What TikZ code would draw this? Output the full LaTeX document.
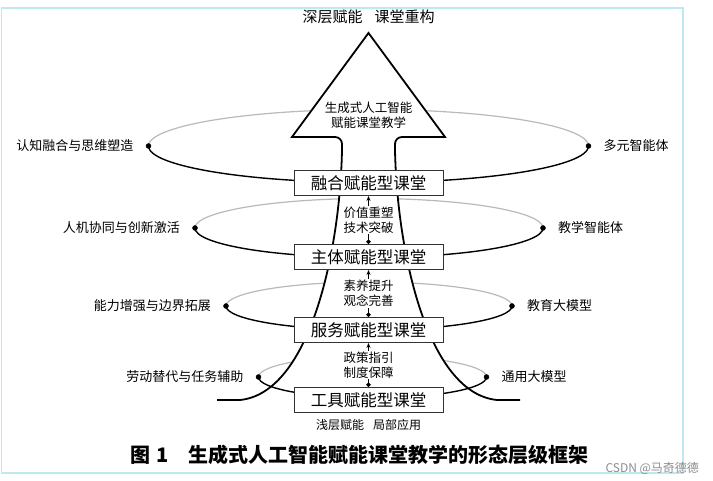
\documentclass[tikz,border=0pt]{standalone}
\usepackage{fontspec}
\setmainfont{Noto Sans CJK SC}
\usetikzlibrary{arrows.meta,positioning}
\definecolor{framecyan}{RGB}{190,232,242}
\definecolor{backgray}{RGB}{185,185,185}
\tikzset{
  box/.style={draw=black!80, line width=1pt, fill=white, minimum width=149pt,
    minimum height=25pt, inner sep=0pt, font=\fontsize{16.5}{18}\selectfont},
  lbl/.style={inner sep=0pt, font=\fontsize{13}{15}\selectfont},
  mid/.style={fill=white, align=center, inner sep=1pt, font=\fontsize{12.5}{15}\selectfont},
  front/.style={black, line width=1.4pt},
  back/.style={backgray, line width=1.2pt},
  lift/.style={{Circle[length=4.5pt]}-{Stealth[length=5pt,width=4pt]}, line width=0.9pt},
}

\begin{document}
\begin{tikzpicture}[x=1pt,y=1pt]
  \useasboundingbox (0,0) rectangle (713,481);
  % frame
  \draw[framecyan, line width=1.5pt] (1.5,8) rectangle (683,473);
  % loop end points
  \coordinate (d1l) at (148.5,335); \coordinate (d1r) at (588.5,335);
  \coordinate (d2l) at (195,253);   \coordinate (d2r) at (543,253);
  \coordinate (d3l) at (226,175);   \coordinate (d3r) at (512,175);
  \coordinate (d4l) at (258.5,104); \coordinate (d4r) at (486.5,104);
  % back halves of the loops
  \draw[back] (d1l) arc[start angle=180, end angle=0, x radius=220, y radius=36.5];
  \draw[back] (d2l) arc[start angle=180, end angle=0, x radius=174, y radius=29.5];
  \draw[back] (d3l) arc[start angle=180, end angle=0, x radius=143, y radius=24];
  \draw[back] (d4l) arc[start angle=180, end angle=0, x radius=114, y radius=21];
  % big arrow
  \draw[line width=1.8pt, fill=white]
    (217,81) -- (240,81) .. controls (310,88) and (340,230) .. (342,331) -- (342,337)
    arc[start angle=0, end angle=90, radius=7] -- (292,344) -- (368.5,448) -- (445,344)
    -- (402,344) arc[start angle=90, end angle=180, radius=7] -- (395,331)
    .. controls (397,230) and (427,88) .. (497,81) -- (520,81);
  \node[mid, fill=none] (head) at (368.5,366) {生成式人工智能\\赋能课堂教学};
  % front halves of the loops
  \draw[front] (d1l) arc[start angle=180, end angle=360, x radius=220, y radius=36.5];
  \draw[front] (d2l) arc[start angle=180, end angle=360, x radius=174, y radius=29.5];
  \draw[front] (d3l) arc[start angle=180, end angle=360, x radius=143, y radius=24];
  \draw[front] (d4l) arc[start angle=180, end angle=360, x radius=114, y radius=21];
  % levels
  \node[box] (rh) at (368.5,298) {融合赋能型课堂};
  \node[box] (zt) at (368.5,224) {主体赋能型课堂};
  \node[box] (fw) at (368.5,151) {服务赋能型课堂};
  \node[box] (gj) at (368.5,81)  {工具赋能型课堂};
  % steps between levels
  \draw[lift] (zt.north) -- (rh.south);
  \path (zt) -- (rh) node[midway, mid] (m1) {价值重塑\\技术突破};
  \draw[lift] (fw.north) -- (zt.south);
  \path (fw) -- (zt) node[midway, mid] (m2) {素养提升\\观念完善};
  \draw[lift] (gj.north) -- (fw.south);
  \path (gj) -- (fw) node[midway, mid] (m3) {政策指引\\制度保障};
  % dots and labels
  \foreach \d in {d1l,d1r,d2l,d2r,d3l,d3r,d4l,d4r}
    \filldraw[black] (\d) circle (2.5pt);
  \node[lbl, left=15pt of d1l] (t1l) {认知融合与思维塑造};
  \node[lbl, right=15pt of d1r] (t1r) {多元智能体};
  \node[lbl, left=15pt of d2l] (t2l) {人机协同与创新激活};
  \node[lbl, right=15pt of d2r] (t2r) {教学智能体};
  \node[lbl, left=15pt of d3l] (t3l) {能力增强与边界拓展};
  \node[lbl, right=15pt of d3r] (t3r) {教育大模型};
  \node[lbl, left=15pt of d4l] (t4l) {劳动替代与任务辅助};
  \node[lbl, right=15pt of d4r] (t4r) {通用大模型};
  % ends of the scale
  \node[font=\fontsize{15}{17}\selectfont] (top) at (368.5,464) {深层赋能\hspace{0.8em}课堂重构};
  \node[font=\fontsize{12}{14}\selectfont] (bottom) at (368.5,56) {浅层赋能\hspace{0.75em}局部应用};
  % caption
  \node[anchor=west, font=\fontsize{20}{22}\selectfont\bfseries] (cap) at (127,26)
    {图\hspace{0.3em}1\hspace{1em}生成式人工智能赋能课堂教学的形态层级框架};
  \node[anchor=west, text=black!45, font=\fontsize{12}{14}\selectfont] (mark) at (602,13) {CSDN @马奇德德};
\end{tikzpicture}
\end{document}
